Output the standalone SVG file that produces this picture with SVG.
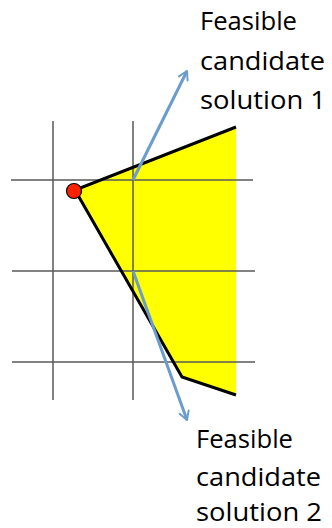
<svg xmlns="http://www.w3.org/2000/svg" width="332" height="528" viewBox="0 0 332 528">
<style>
.grid{stroke:#595959;stroke-width:1.5;fill:none}
.edge{stroke:#000;stroke-width:3;fill:none;stroke-linejoin:miter}
.arrow{stroke:#6a9ccd;stroke-width:3;fill:none}
.lbl{font-family:"Open Sans","Liberation Sans",sans-serif;font-size:25px;fill:#000}
</style>
<defs>
<marker id="ah" viewBox="0 0 10 10" refX="8" refY="5" markerWidth="4" markerHeight="4" orient="auto" markerUnits="strokeWidth">
<path d="M1,1 L8,5 L1,9" fill="none" stroke="#6a9ccd" stroke-width="1.6" stroke-linecap="round" stroke-linejoin="round"/>
</marker>
</defs>
<g id="region">
<polygon points="75,190 236,127 236,395 182,377" fill="#ffff00" stroke="none"/>
</g>
<g id="grid">
<line class="grid" x1="53" y1="121" x2="53" y2="400"/>
<line class="grid" x1="133" y1="121" x2="133" y2="400"/>
<line class="grid" x1="11" y1="180" x2="253" y2="180"/>
<line class="grid" x1="12" y1="271" x2="255" y2="271"/>
<line class="grid" x1="12" y1="362" x2="255" y2="362"/>
</g>
<g id="boundary">
<polyline class="edge" points="236,127 75,190 182,377 236,395"/>
</g>
<g id="start">
<circle cx="74" cy="191" r="7.5" fill="#ff2200" stroke="#000" stroke-width="1.2"/>
</g>
<g id="connectors">
<line class="arrow" x1="133" y1="180" x2="187" y2="71" marker-end="url(#ah)"/>
<line class="arrow" x1="133" y1="271" x2="187" y2="420" marker-end="url(#ah)"/>
</g>
<g id="label1">
<text class="lbl" x="200" y="30" textLength="97" lengthAdjust="spacingAndGlyphs">Feasible</text>
<text class="lbl" x="200" y="70" textLength="125" lengthAdjust="spacingAndGlyphs">candidate</text>
<text class="lbl" x="200" y="109" textLength="126" lengthAdjust="spacingAndGlyphs">solution 1</text>
</g>
<g id="label2">
<text class="lbl" x="196" y="448" textLength="97" lengthAdjust="spacingAndGlyphs">Feasible</text>
<text class="lbl" x="196" y="486" textLength="125" lengthAdjust="spacingAndGlyphs">candidate</text>
<text class="lbl" x="196" y="521" textLength="126" lengthAdjust="spacingAndGlyphs">solution 2</text>
</g>
</svg>
